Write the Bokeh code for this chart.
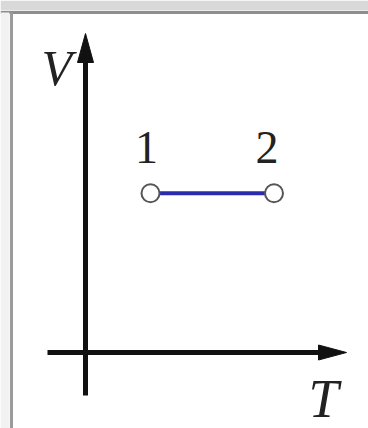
from bokeh.plotting import figure
from bokeh.models import Range1d
from bokeh.core.properties import value
from bokeh.embed import file_html
from bokeh.resources import INLINE

# Isochoric process 1 -> 2 on a V-T diagram
T_states = [1.0, 2.9]
V_states = [2.45, 2.45]
state_labels = ["1", "2"]
axis_x_label = "T"
axis_y_label = "V"

W, H = 368, 428
S = 65.0            # pixels per unit
OX, OY = 85.0, 352.0  # where the axes cross, in pixels


def dx(px):
    return (px - OX) / S


def dy(py):
    return (OY - py) / S


p = figure(width=W, height=H, output_backend="svg", toolbar_location=None,
           x_range=Range1d(dx(0), dx(W)), y_range=Range1d(dy(H), dy(0)),
           x_axis_type=None, y_axis_type=None, min_border=0,
           outline_line_color=None, background_fill_color="white",
           border_fill_color="white")
p.grid.visible = False

# cell frame: grey band on top, rule below it and a rule on the left
p.quad(left=dx(0), right=dx(W), top=dy(0), bottom=dy(10),
       fill_color="#d9d9d9", line_color=None)
p.line([dx(0), dx(W)], [dy(12), dy(12)], line_color="#8e8e8e", line_width=3)
p.quad(left=dx(0), right=dx(9), top=dy(12), bottom=dy(H),
       fill_color="#f2f2f2", line_color=None)
p.line([dx(11), dx(11)], [dy(12), dy(H)], line_color="#9a9a9a", line_width=3)

# coordinate axes with arrow heads
ink = "#111111"
p.line([dx(47), dx(320)], [0, 0], line_color=ink, line_width=5)
p.line([0, 0], [dy(395), dy(60)], line_color=ink, line_width=5)
p.patch([dx(346), dx(318), dx(318)], [0, dy(OY - 7.5), dy(OY + 7.5)],
        fill_color=ink, line_color=ink, line_width=1)
p.patch([0, dx(OX - 8), dx(OX + 8)], [dy(33), dy(62), dy(62)],
        fill_color=ink, line_color=ink, line_width=1)

serif = value("Liberation Serif")
p.text(x=[dx(41)], y=[dy(67)], text=[axis_y_label], text_font=serif,
       text_font_style="italic", text_font_size="50px", text_color="#222222",
       text_align="left", text_baseline="alphabetic")
p.text(x=[dx(308)], y=[dy(398)], text=[axis_x_label], text_font=serif,
       text_font_style="italic", text_font_size="54px", text_color="#222222",
       text_align="left", text_baseline="alphabetic")

# the process line and its end states
p.line(T_states, V_states, line_color="#2b2bb0", line_width=4)
p.scatter(T_states, V_states, marker="circle", size=18,
          fill_color="white", line_color="#555555", line_width=2)

label_x = [T_states[0] - 4 / S, T_states[1] - 7 / S]
label_y = [v + 46 / S for v in V_states]
p.text(x=label_x, y=label_y, text=state_labels, text_font=serif,
       text_font_size="46px", text_color="#222222",
       text_align="center", text_baseline="alphabetic")

open("out.html", "w").write(file_html(p, INLINE))
